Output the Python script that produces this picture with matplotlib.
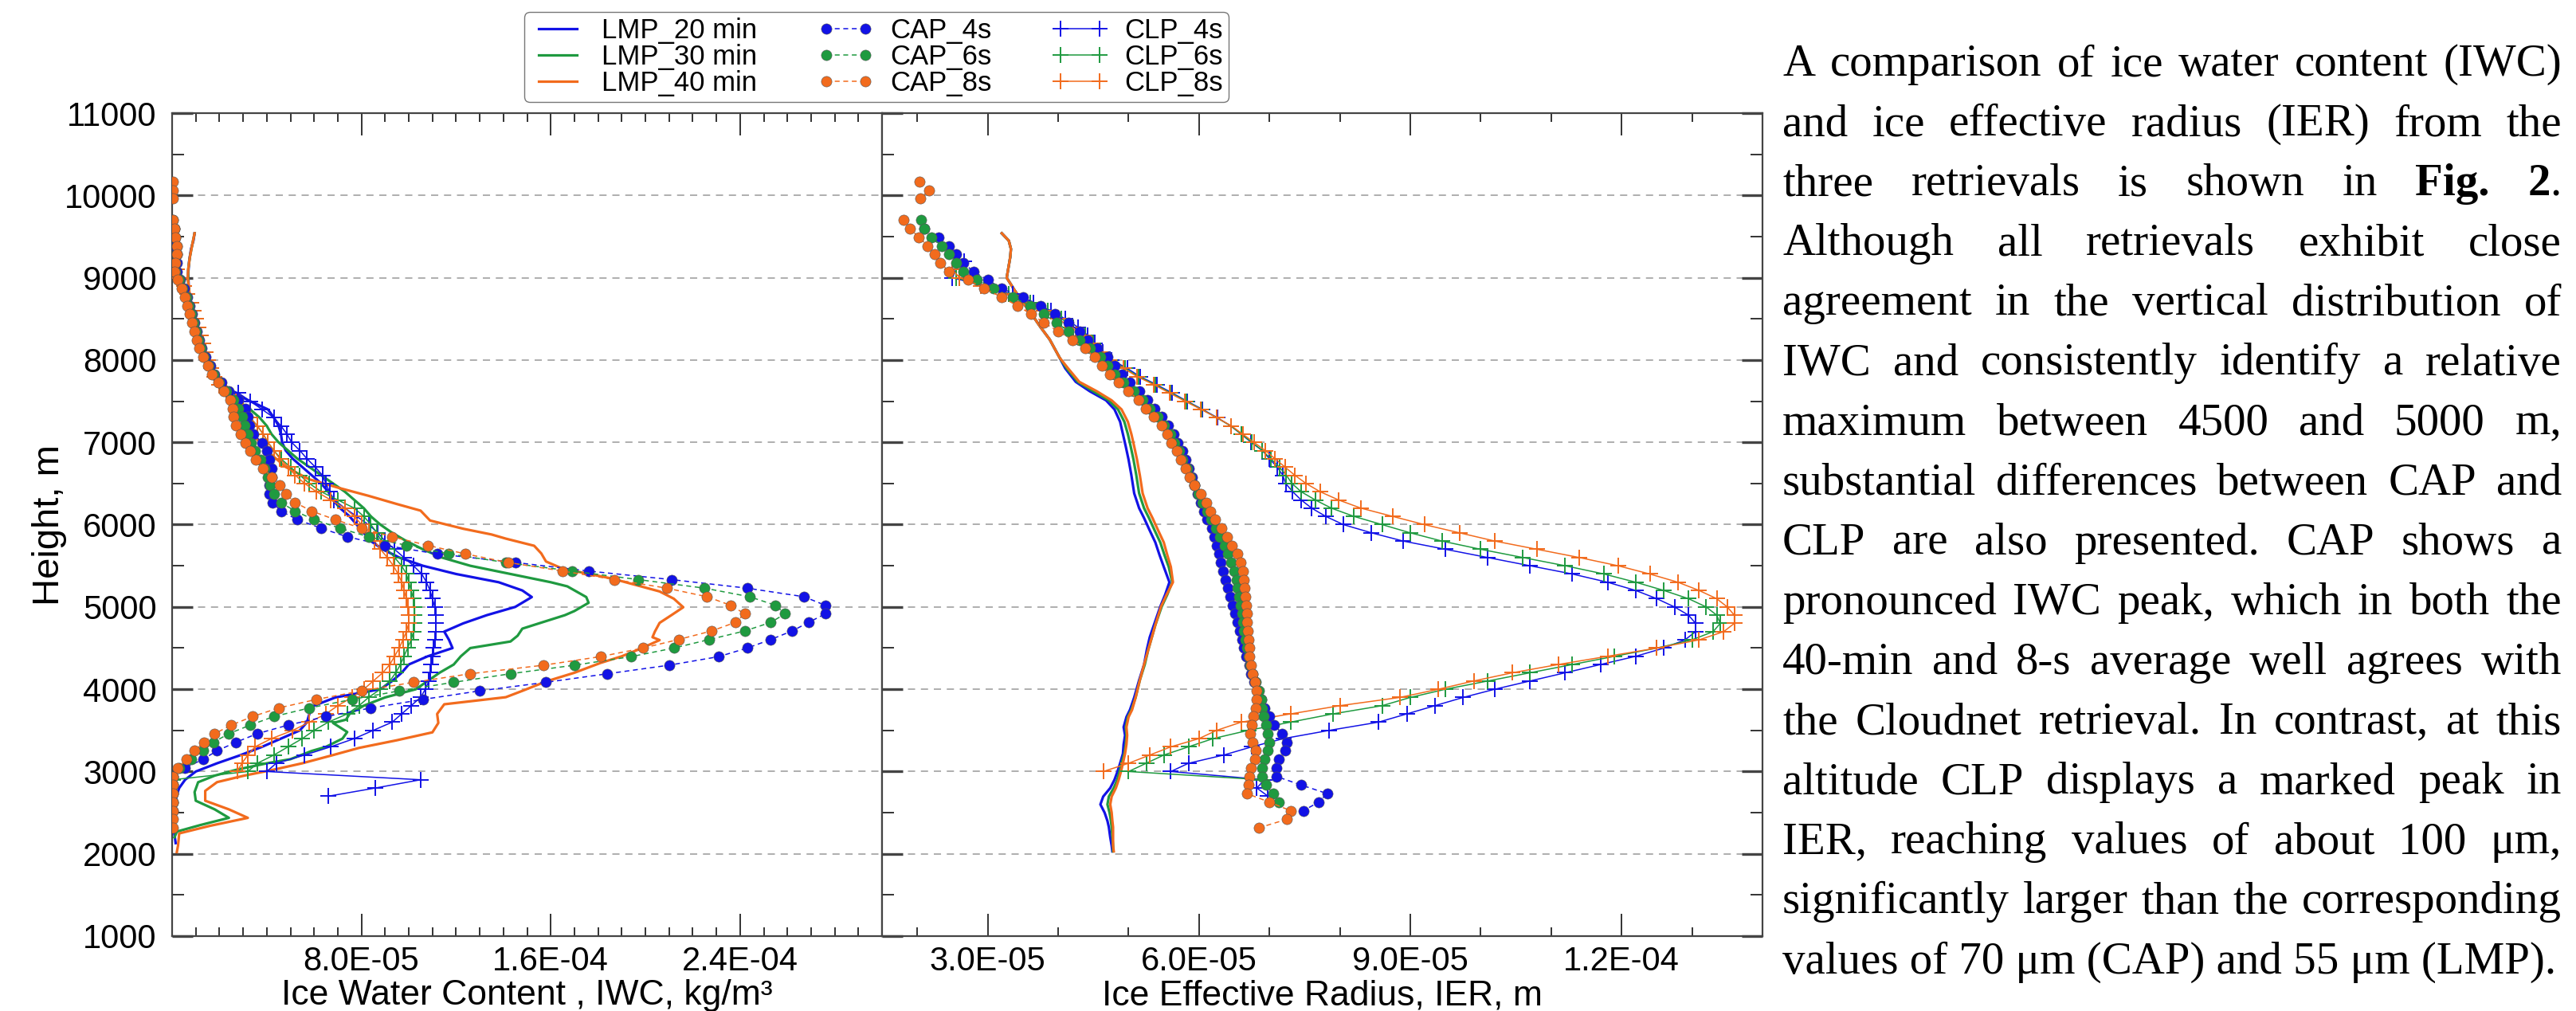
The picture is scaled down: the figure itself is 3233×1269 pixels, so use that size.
import numpy as np
import matplotlib
matplotlib.use("Agg")
import matplotlib.pyplot as plt
from matplotlib.ticker import FixedLocator, MultipleLocator, FuncFormatter

plt.rcParams['font.family'] = ['Liberation Sans', 'DejaVu Sans']

nan = np.nan
W, H = 3233, 1269

# ---------------- data (IWC in 1e-5 kg/m3, IER in 1e-5 m) ----------------
# CAP retrieval heights
H_CAP = [9700, 9596, 9492, 9388, 9284, 9180, 9076, 8972, 8868, 8764,
         8660, 8556, 8452, 8348, 8244, 8140, 8036, 7932, 7828, 7724,
         7620, 7516, 7412, 7308, 7204, 7100, 6996, 6892, 6788, 6684,
         6580, 6476, 6372, 6268, 6164, 6060, 5956, 5852, 5748, 5644,
         5540, 5436, 5332, 5228, 5124, 5020, 4916, 4812, 4708, 4604,
         4500, 4396, 4292, 4188, 4084, 3980, 3876, 3772, 3668, 3564,
         3460, 3356, 3252, 3148, 3044, 2940, 2836, 2732, 2628, 2524,
         2420, 2316]

cap4_iwc = [nan, 0.1, 0.1, 0.15, 0.2, 0.2, 0.2, 0.35, 0.5, 0.65,
            0.75, 0.85, 0.95, 1.05, 1.15, 1.25, 1.4, 1.6, 1.8, 2.1,
            2.4, 2.8, 3.1, 3.2, 3.25, 3.45, 3.8, 4.0, 4.1, 4.2,
            4.2, 4.1, 4.1, 4.25, 4.6, 5.3, 6.3, 7.4, 9.0, 11.2,
            14.5, 17.6, 21.1, 24.3, 26.7, 27.6, 27.6, 26.9, 26.2, 25.3,
            24.3, 23.1, 21.0, 18.4, 15.8, 13.0, 10.6, 8.4, 6.5, 4.9,
            3.6, 2.7, 1.9, 1.3, 0.55, 0.05, 0.02, 0.02, 0.02, 0.02,
            nan, nan]
cap6_iwc = [0.05, 0.1, 0.15, 0.2, 0.2, 0.15, 0.15, 0.3, 0.45, 0.6,
            0.7, 0.8, 0.9, 1.0, 1.1, 1.2, 1.35, 1.55, 1.75, 2.0,
            2.3, 2.6, 2.8, 2.95, 3.05, 3.2, 3.35, 3.5, 3.75, 3.9,
            4.05, 4.15, 4.3, 4.6, 5.2, 6.0, 7.1, 8.3, 9.9, 11.7,
            14.1, 16.9, 19.7, 22.5, 24.4, 25.5, 25.9, 25.3, 24.2, 22.7,
            21.2, 19.4, 17.0, 14.3, 11.9, 9.6, 7.6, 5.8, 4.3, 3.3,
            2.4, 1.75, 1.3, 0.8, 0.3, 0.02, 0.02, 0.02, 0.02, nan,
            nan, nan]
cap8_iwc = [0.05, 0.1, 0.15, 0.2, 0.2, 0.15, 0.1, 0.25, 0.4, 0.55,
            0.65, 0.75, 0.85, 0.95, 1.05, 1.15, 1.3, 1.5, 1.7, 1.95,
            2.2, 2.45, 2.55, 2.6, 2.7, 2.9, 3.1, 3.3, 3.55, 3.85,
            4.2, 4.55, 4.8, 5.2, 5.9, 6.9, 8.0, 9.3, 10.8, 12.4,
            14.2, 16.5, 18.7, 20.9, 22.6, 23.6, 24.2, 23.8, 22.8, 21.4,
            19.9, 18.1, 15.7, 12.6, 10.2, 8.0, 6.1, 4.5, 3.4, 2.5,
            1.8, 1.35, 0.95, 0.6, 0.25, 0.02, 0.02, 0.02, 0.02, 0.02,
            0.02, 0.02]

cap4_ier = [nan, 2.1, 2.3, 2.45, 2.55, 2.65, 2.8, 3.0, 3.2, 3.5,
            3.75, 3.95, 4.15, 4.3, 4.42, 4.55, 4.7, 4.8, 4.9, 5.02,
            5.15, 5.27, 5.37, 5.47, 5.56, 5.64, 5.7, 5.76, 5.81, 5.86,
            5.9, 5.94, 5.98, 6.02, 6.07, 6.12, 6.18, 6.22, 6.25, 6.28,
            6.31, 6.34, 6.38, 6.41, 6.44, 6.48, 6.51, 6.54, 6.58, 6.61,
            6.64, 6.67, 6.71, 6.74, 6.78, 6.83, 6.88, 6.93, 7.0, 7.07,
            7.18, 7.25, 7.22, 7.13, 7.1, 7.1, 7.45, 7.82, 7.7, 7.48,
            nan, nan]
cap6_ier = [2.05, 2.1, 2.2, 2.35, 2.45, 2.55, 2.65, 2.85, 3.08, 3.35,
            3.6, 3.8, 3.98, 4.15, 4.3, 4.45, 4.6, 4.7, 4.8, 4.93,
            5.07, 5.2, 5.3, 5.41, 5.51, 5.59, 5.65, 5.72, 5.77, 5.83,
            5.88, 5.93, 5.99, 6.05, 6.11, 6.17, 6.24, 6.3, 6.36, 6.41,
            6.46, 6.5, 6.53, 6.55, 6.57, 6.59, 6.61, 6.62, 6.64, 6.66,
            6.68, 6.7, 6.73, 6.76, 6.8, 6.85, 6.88, 6.9, 6.92, 6.95,
            6.98, 7.0, 6.97, 6.93, 6.9, 6.9, 6.95, 7.05, 7.13, nan,
            nan, nan]
cap8_ier = [1.8, 1.9, 2.02, 2.15, 2.25, 2.33, 2.45, 2.72, 2.95, 3.2,
            3.42, 3.62, 3.8, 4.0, 4.2, 4.38, 4.52, 4.62, 4.73, 4.86,
            5.0, 5.14, 5.24, 5.36, 5.47, 5.55, 5.61, 5.68, 5.74, 5.81,
            5.87, 5.94, 6.02, 6.1, 6.16, 6.23, 6.32, 6.4, 6.47, 6.54,
            6.59, 6.62, 6.64, 6.65, 6.66, 6.67, 6.68, 6.68, 6.69, 6.7,
            6.71, 6.72, 6.74, 6.76, 6.79, 6.82, 6.82, 6.81, 6.77, 6.75,
            6.73, 6.76, 6.81, 6.79, 6.74, 6.72, 6.7, 6.68, 7.0, 7.3,
            7.25, 6.85]

# isolated CAP_8s points near cloud top
H_CAP8_TOP = [10168, 10064, 9960]
cap8_top_iwc = [0.05, 0.05, 0.05]
cap8_top_ier = [2.03, 2.17, 2.04]

# CLP retrieval heights
H_CLP = [9200, 9100, 9000, 8900, 8800, 8700, 8600, 8500, 8400, 8300,
         8200, 8100, 8000, 7900, 7800, 7700, 7600, 7500, 7400, 7300,
         7200, 7100, 7000, 6900, 6800, 6700, 6600, 6500, 6400, 6300,
         6200, 6100, 6000, 5900, 5800, 5700, 5600, 5500, 5400, 5300,
         5200, 5100, 5000, 4900, 4800, 4700, 4600, 4500, 4400, 4300,
         4200, 4100, 4000, 3900, 3800, 3700, 3600, 3500, 3400, 3300,
         3200, 3100, 3000, 2900, 2800, 2700]

clp4_iwc = [0.1, 0.2, 0.35, 0.5, 0.65, 0.8, 0.9, 1.0, 1.1, 1.2,
            1.3, 1.4, 1.5, 1.65, 1.8, 2.0, 2.8, 3.3, 3.8, 4.3,
            4.6, 4.85, 5.05, 5.4, 5.7, 6.05, 6.35, 6.5, 6.65, 6.85,
            7.3, 7.8, 8.3, 8.7, 9.0, 9.4, 9.8, 10.2, 10.55, 10.75,
            10.9, 11.0, 11.1, 11.15, 11.15, 11.15, 11.1, 11.05, 11.0, 10.95,
            10.9, 10.85, 10.7, 10.5, 10.1, 9.7, 9.3, 8.5, 7.7, 6.7,
            5.6, 4.4, 4.0, 10.5, 8.6, 6.6]
clp6_iwc = [nan, 0.2, 0.35, 0.5, 0.65, 0.8, 0.9, 1.0, 1.1, 1.2,
            1.3, 1.4, 1.5, 1.65, 1.8, 2.0, 2.3, 2.7, 3.0, 3.3,
            3.6, 3.85, 4.05, 4.3, 4.6, 5.0, 5.4, 5.8, 6.3, 7.0,
            7.7, 8.1, 8.4, 8.65, 8.85, 9.1, 9.4, 9.7, 9.9, 10.0,
            10.1, 10.2, 10.25, 10.25, 10.25, 10.2, 10.1, 9.95, 9.8, 9.65,
            9.45, 9.2, 8.8, 8.3, 7.9, 7.4, 6.6, 6.0, 5.5, 4.9,
            4.3, 3.6, 3.2, 0.05, nan, nan]
clp8_iwc = [nan, 0.2, 0.35, 0.5, 0.65, 0.8, 0.9, 1.0, 1.1, 1.2,
            1.3, 1.4, 1.5, 1.65, 1.8, 2.0, 2.3, 2.7, 3.0, 3.3,
            3.6, 3.85, 4.05, 4.3, 4.55, 4.9, 5.2, 5.6, 6.1, 6.7,
            7.3, 7.7, 8.0, 8.3, 8.55, 8.8, 9.1, 9.35, 9.55, 9.7,
            9.8, 9.9, 9.95, 10.0, 10.0, 9.9, 9.75, 9.6, 9.4, 9.2,
            8.9, 8.5, 8.1, 7.6, 7.0, 6.5, 5.8, 5.1, 4.2, 3.5,
            3.2, 2.95, 2.75, nan, nan, nan]

clp4_ier = [2.67, 2.55, 2.5, 2.95, 3.35, 3.65, 3.9, 4.1, 4.28, 4.42,
            4.52, 4.63, 4.76, 4.98, 5.16, 5.4, 5.62, 5.83, 6.05, 6.26,
            6.45, 6.6, 6.74, 6.9, 7.0, 7.11, 7.19, 7.23, 7.33, 7.45,
            7.6, 7.8, 8.05, 8.45, 8.9, 9.5, 10.1, 10.7, 11.3, 11.8,
            12.2, 12.5, 12.75, 12.95, 13.05, 13.05, 12.9, 12.6, 12.2, 11.7,
            11.2, 10.7, 10.2, 9.75, 9.35, 8.95, 8.55, 7.85, 7.2, 6.75,
            6.35, 5.85, 5.6, 6.93, 6.82, 6.98]
clp6_ier = [nan, 2.55, 2.55, 2.95, 3.3, 3.6, 3.85, 4.05, 4.22, 4.38,
            4.5, 4.6, 4.74, 4.95, 5.14, 5.38, 5.6, 5.82, 6.04, 6.25,
            6.45, 6.6, 6.75, 6.9, 7.02, 7.14, 7.24, 7.32, 7.45, 7.65,
            7.88, 8.2, 8.6, 9.0, 9.45, 10.0, 10.6, 11.2, 11.75, 12.2,
            12.6, 12.95, 13.2, 13.35, 13.4, 13.3, 13.0, 12.5, 11.9, 11.3,
            10.7, 10.1, 9.5, 9.0, 8.6, 7.9, 7.3, 6.7, 6.2, 5.85,
            5.5, 5.25, 5.0, 6.9, nan, nan]
clp8_ier = [nan, 2.5, 2.6, 2.9, 3.25, 3.55, 3.8, 4.0, 4.18, 4.35,
            4.48, 4.6, 4.72, 4.93, 5.12, 5.36, 5.58, 5.8, 6.03, 6.25,
            6.46, 6.62, 6.78, 6.94, 7.08, 7.22, 7.36, 7.52, 7.72, 7.98,
            8.3, 8.75, 9.2, 9.7, 10.2, 10.8, 11.4, 11.95, 12.4, 12.8,
            13.1, 13.35, 13.5, 13.6, 13.6, 13.45, 13.1, 12.5, 11.8, 11.1,
            10.45, 9.9, 9.4, 8.85, 8.0, 7.3, 6.6, 6.25, 6.0, 5.6,
            5.3, 5.0, 4.64, nan, nan, nan]

# LMP profiles, IWC panel
lmp20_iwc_h = [9540, 9450, 9350, 9200, 9050, 8900, 8800, 8700, 8500, 8300,
               8100, 7900, 7700, 7600, 7500, 7400, 7300, 7200, 7100, 7000,
               6900, 6800, 6700, 6600, 6500, 6400, 6300, 6200, 6100, 6000,
               5900, 5800, 5700, 5600, 5500, 5400, 5300, 5200, 5120, 5000,
               4900, 4800, 4700, 4600, 4500, 4400, 4300, 4200, 4100, 4000,
               3900, 3800, 3700, 3600, 3500, 3400, 3300, 3200, 3100, 3000,
               2900, 2800, 2700, 2600, 2400, 2250, 2130]
lmp20_iwc = [0.95, 0.9, 0.8, 0.72, 0.68, 0.7, 0.72, 0.75, 0.95, 1.15,
             1.4, 1.7, 2.2, 2.6, 3.3, 4.05, 4.3, 4.5, 4.6, 4.65,
             4.8, 5.1, 5.5, 5.9, 6.3, 6.6, 6.8, 7.1, 7.5, 7.8,
             8.1, 8.4, 8.9, 9.6, 10.6, 12.0, 13.8, 14.8, 15.2, 14.5,
             13.3, 12.3, 11.5, 11.7, 11.85, 10.8, 10.0, 9.7, 9.3, 8.8,
             6.9, 6.0, 5.8, 5.7, 5.4, 4.6, 3.8, 2.9, 1.9, 1.0,
             0.55, 0.3, 0.18, 0.15, 0.1, 0.09, 0.15]
lmp30_iwc_h = [9540, 9400, 9250, 9100, 8950, 8800, 8600, 8400, 8200, 8000,
               7800, 7700, 7600, 7500, 7400, 7300, 7200, 7100, 7000, 6900,
               6800, 6700, 6600, 6500, 6400, 6300, 6200, 6100, 6000, 5900,
               5800, 5700, 5600, 5500, 5400, 5300, 5250, 5120, 5050, 4950,
               4900, 4800, 4736, 4650, 4580, 4500, 4400, 4300, 4200, 4080,
               4000, 3900, 3800, 3700, 3630, 3590, 3480, 3400, 3300, 3250,
               3150, 3100, 3020, 2950, 2870, 2750, 2645, 2540, 2437, 2350,
               2270, 2200]
lmp30_iwc = [0.95, 0.85, 0.75, 0.68, 0.68, 0.72, 0.85, 1.05, 1.25, 1.45,
             1.75, 2.1, 2.4, 2.8, 3.3, 3.7, 4.0, 4.2, 4.5, 4.9,
             5.3, 5.8, 6.3, 6.8, 7.3, 7.7, 8.1, 8.4, 8.8, 9.3,
             9.9, 10.6, 11.4, 12.6, 14.3, 16.0, 16.7, 17.5, 17.6, 17.0,
             16.6, 15.5, 14.8, 14.6, 14.3, 12.6, 12.2, 11.9, 11.3, 10.7,
             10.3, 9.0, 8.1, 7.5, 7.35, 6.8, 7.4, 7.2, 6.5, 5.9,
             5.0, 4.0, 2.7, 1.8, 1.1, 0.95, 1.0, 1.8, 2.4, 1.2,
             0.2, 0.1]
lmp40_iwc_h = [9540, 9400, 9250, 9100, 9000, 8850, 8700, 8500, 8300, 8100,
               7900, 7700, 7500, 7300, 7100, 6900, 6700, 6550, 6450, 6350,
               6250, 6170, 6050, 5950, 5880, 5830, 5743, 5650, 5552, 5465,
               5344, 5188, 5100, 4996, 4900, 4806, 4700, 4632, 4597, 4493,
               4400, 4319, 4200, 4094, 3980, 3903, 3817, 3700, 3590, 3476,
               3380, 3287, 3200, 3100, 3023, 2947, 2871, 2765, 2645, 2540,
               2437, 2340, 2248, 2100, 2021]
lmp40_iwc = [0.95, 0.85, 0.75, 0.68, 0.66, 0.72, 0.8, 0.95, 1.15, 1.4,
             1.7, 2.1, 2.6, 3.0, 3.4, 4.0, 4.8, 5.8, 7.0, 8.3,
             9.5, 10.5, 10.9, 12.3, 13.5, 14.1, 15.3, 15.6, 15.8, 16.5,
             18.6, 20.6, 21.2, 21.6, 21.1, 20.6, 20.4, 20.3, 20.6, 19.8,
             19.0, 18.1, 17.0, 15.8, 14.8, 14.1, 11.5, 11.2, 11.25, 11.0,
             9.5, 7.9, 6.8, 5.5, 4.3, 3.0, 1.9, 1.4, 1.4, 2.4,
             3.2, 1.6, 0.3, 0.25, 0.2]

# LMP profiles, IER panel
lmp_ier_h = [9540, 9450, 9350, 9250, 9150, 9000, 8850, 8700, 8550, 8400,
             8250, 8030, 7900, 7735, 7620, 7510, 7400, 7250, 7100, 6950,
             6790, 6600, 6380, 6200, 6080, 5930, 5784, 5630, 5487, 5300,
             5150, 5003, 4780, 4630, 4482, 4300, 4110, 3900, 3750, 3663,
             3540, 3440, 3330, 3217, 3100, 2993, 2900, 2800, 2696, 2600,
             2500, 2400, 2324, 2200, 2100, 2030]
lmp20_ier = [3.2, 3.3, 3.33, 3.32, 3.3, 3.27, 3.38, 3.5, 3.63, 3.75,
             3.88, 4.02, 4.1, 4.25, 4.45, 4.68, 4.8, 4.88, 4.92, 4.96,
             5.0, 5.04, 5.08, 5.15, 5.22, 5.3, 5.38, 5.44, 5.5, 5.58,
             5.52, 5.45, 5.36, 5.3, 5.26, 5.22, 5.15, 5.08, 5.02, 4.97,
             4.93, 4.95, 4.93, 4.92, 4.88, 4.84, 4.8, 4.74, 4.64, 4.6,
             4.66, 4.7, 4.72, 4.74, 4.76, 4.77]
lmp30_ier = [3.2, 3.3, 3.33, 3.32, 3.3, 3.27, 3.38, 3.5, 3.63, 3.75,
             3.88, 4.02, 4.12, 4.28, 4.5, 4.72, 4.85, 4.94, 4.99, 5.03,
             5.07, 5.11, 5.15, 5.22, 5.29, 5.37, 5.45, 5.51, 5.57, 5.62,
             5.55, 5.47, 5.38, 5.33, 5.28, 5.23, 5.16, 5.1, 5.04, 4.99,
             4.96, 4.97, 4.96, 4.94, 4.9, 4.87, 4.84, 4.79, 4.72, 4.7,
             4.73, 4.75, 4.76, 4.77, 4.78, 4.78]
lmp40_ier = [3.2, 3.3, 3.33, 3.32, 3.3, 3.27, 3.38, 3.5, 3.63, 3.75,
             3.88, 4.02, 4.14, 4.3, 4.55, 4.76, 4.9, 4.99, 5.04, 5.08,
             5.12, 5.16, 5.2, 5.27, 5.34, 5.42, 5.5, 5.55, 5.6, 5.63,
             5.54, 5.46, 5.38, 5.33, 5.28, 5.22, 5.16, 5.1, 5.05, 5.0,
             4.97, 4.98, 4.97, 4.95, 4.92, 4.89, 4.86, 4.82, 4.76, 4.74,
             4.76, 4.77, 4.78, 4.78, 4.78, 4.79]

labels_lmp = ['LMP_20 min', 'LMP_30 min', 'LMP_40 min']
labels_cap = ['CAP_4s', 'CAP_6s', 'CAP_8s']
labels_clp = ['CLP_4s', 'CLP_6s', 'CLP_8s']

paragraph = [
    "A comparison of ice water content (IWC)",
    "and ice effective radius (IER) from the",
    "three retrievals is shown in **Fig. 2**.",
    "Although all retrievals exhibit close",
    "agreement in the vertical distribution of",
    "IWC and consistently identify a relative",
    "maximum between 4500 and 5000 m,",
    "substantial differences between CAP and",
    "CLP are also presented. CAP shows a",
    "pronounced IWC peak, which in both the",
    "40-min and 8-s average well agrees with",
    "the Cloudnet retrieval. In contrast, at this",
    "altitude CLP displays a marked peak in",
    "IER, reaching values of about 100 \u03bcm,",
    "significantly larger than the corresponding",
    "values of 70 \u03bcm (CAP) and 55 \u03bcm (LMP).",
]

# ---------------- figure ----------------
BLUE, GREEN, ORANGE = '#1212e6', '#1f9a40', '#f26b1d'
colors = [BLUE, GREEN, ORANGE]
E = 1e-5


def arr(v):
    return np.array(v, dtype=float) * E


def px_rect(l, t, r, b):
    return [l / W, 1 - b / H, (r - l) / W, (b - t) / H]


TOP, BOT = 142, 1175
fig = plt.figure(figsize=(W / 100, H / 100), dpi=100)
ax1 = fig.add_axes(px_rect(216, TOP, 1107, BOT))
ax2 = fig.add_axes(px_rect(1107, TOP, 2212, BOT))

lmp_kw = dict(lw=2.3, zorder=3)
clp_kw = dict(lw=1.1, marker='+', ms=14, mew=1.4, zorder=4)
cap_kw = dict(lw=1.1, ls=(0, (4, 3)), marker='o', ms=9.5, mec='#555555', mew=0.4, zorder=5)

# IWC panel
for h, v, c in zip([lmp20_iwc_h, lmp30_iwc_h, lmp40_iwc_h],
                   [lmp20_iwc, lmp30_iwc, lmp40_iwc], colors):
    ax1.plot(arr(v), h, color=c, **lmp_kw)
for v, c in zip([clp4_iwc, clp6_iwc, clp8_iwc], colors):
    ax1.plot(arr(v), H_CLP, color=c, **clp_kw)
for v, c in zip([cap4_iwc, cap6_iwc, cap8_iwc], colors):
    ax1.plot(arr(v), H_CAP, color=c, **cap_kw)
ax1.plot(arr(cap8_top_iwc), H_CAP8_TOP, color=ORANGE, **cap_kw)

# IER panel
handles = []
for v, c in zip([lmp20_ier, lmp30_ier, lmp40_ier], colors):
    handles.append(ax2.plot(arr(v), lmp_ier_h, color=c, **lmp_kw)[0])
clp_h = []
for v, c in zip([clp4_ier, clp6_ier, clp8_ier], colors):
    clp_h.append(ax2.plot(arr(v), H_CLP, color=c, **clp_kw)[0])
cap_h = []
for v, c in zip([cap4_ier, cap6_ier, cap8_ier], colors):
    cap_h.append(ax2.plot(arr(v), H_CAP, color=c, **cap_kw)[0])
ax2.plot(arr(cap8_top_ier), H_CAP8_TOP, color=ORANGE, **cap_kw)
handles += cap_h + clp_h


def style(ax, left, right):
    ax.set_ylim(1000, 11000)
    ax.yaxis.set_major_locator(MultipleLocator(1000))
    ax.yaxis.set_minor_locator(MultipleLocator(500))
    ax.xaxis.set_minor_locator(MultipleLocator(1e-5))
    ax.xaxis.set_major_formatter(FuncFormatter(lambda v, p: f"{v:.1E}"))
    ax.tick_params(axis='x', which='major', direction='in', top=True, bottom=True,
                   length=20, width=1.4, color='#333333', labelsize=30, pad=9)
    ax.tick_params(axis='x', which='minor', direction='in', top=True, bottom=True,
                   length=8, width=1.4, color='#333333')
    ax.tick_params(axis='y', which='major', direction='in', left=left, right=right,
                   length=19, width=2.4, color='#444444', labelsize=30, pad=14)
    ax.tick_params(axis='y', which='minor', direction='in', left=left, right=right,
                   length=11, width=1.4, color='#333333')
    for s in ax.spines.values():
        s.set_linewidth(1.6)
        s.set_color('#444444')
    ax.grid(axis='y', which='major', linestyle=(0, (5, 4)), linewidth=1.3, color='#a8a8a8')
    ax.set_axisbelow(True)


style(ax1, True, False)
style(ax2, True, True)
ax1.set_xlim(0, 3.0e-4)
ax1.xaxis.set_major_locator(FixedLocator([8e-5, 1.6e-4, 2.4e-4]))
ax2.set_xlim(1.5e-5, 1.4e-4)
ax2.xaxis.set_major_locator(FixedLocator([3e-5, 6e-5, 9e-5, 1.2e-4]))
ax2.tick_params(axis='y', labelleft=False)

AX_H = BOT - TOP
ax1.set_ylabel('Height, m', fontsize=34, va='center', ha='center')
ax1.yaxis.set_label_coords((62 - 216) / 891, 0.5)
ax1.set_xlabel('Ice Water Content , IWC, kg/m\u00b3', fontsize=32, va='center')
ax1.xaxis.set_label_coords(0.5, (BOT - 1250) / AX_H)
ax2.set_xlabel('Ice Effective Radius, IER, m', fontsize=32, va='center')
ax2.xaxis.set_label_coords(0.5, (BOT - 1250) / AX_H)

fig.legend(handles, labels_lmp + labels_cap + labels_clp, ncol=3,
           loc='upper center', bbox_to_anchor=(1100 / W, 1 + 2 / H),
           fontsize=25, frameon=True, fancybox=True, edgecolor='#777777',
           framealpha=1, handlelength=2.0, handletextpad=0.6,
           columnspacing=2.2, labelspacing=0.0, borderpad=0.2, numpoints=2)

# ---------------- justified paragraph ----------------
FS = 41
X0, X1 = 2237, 3215
BASE0, STEP = 95, 75.1
renderer = fig.canvas.get_renderer()


def split_words(line):
    words, bold = [], False
    for w in line.split():
        segs = []
        for k, part in enumerate(w.split('**')):
            if k > 0:
                bold = not bold
            if part:
                segs.append((part, bold))
        words.append(segs)
    return words


for i, line in enumerate(paragraph):
    yb = 1 - (BASE0 + i * STEP) / H
    if i == len(paragraph) - 1:
        fig.text(X0 / W, yb, line, fontsize=FS, family='Liberation Serif', va='baseline')
        continue
    words = split_words(line)
    placed = []
    total = 0
    for segs in words:
        items = []
        for txt, b in segs:
            t = fig.text(0, yb, txt, fontsize=FS, family='Liberation Serif',
                         weight='bold' if b else 'normal', va='baseline')
            wpx = t.get_window_extent(renderer).width
            items.append((t, wpx))
            total += wpx
        placed.append(items)
    gap = (X1 - X0 - total) / max(len(words) - 1, 1)
    x = X0
    for items in placed:
        for t, wpx in items:
            t.set_x(x / W)
            x += wpx
        x += gap

fig.savefig('out.png', dpi=100, facecolor='white')
